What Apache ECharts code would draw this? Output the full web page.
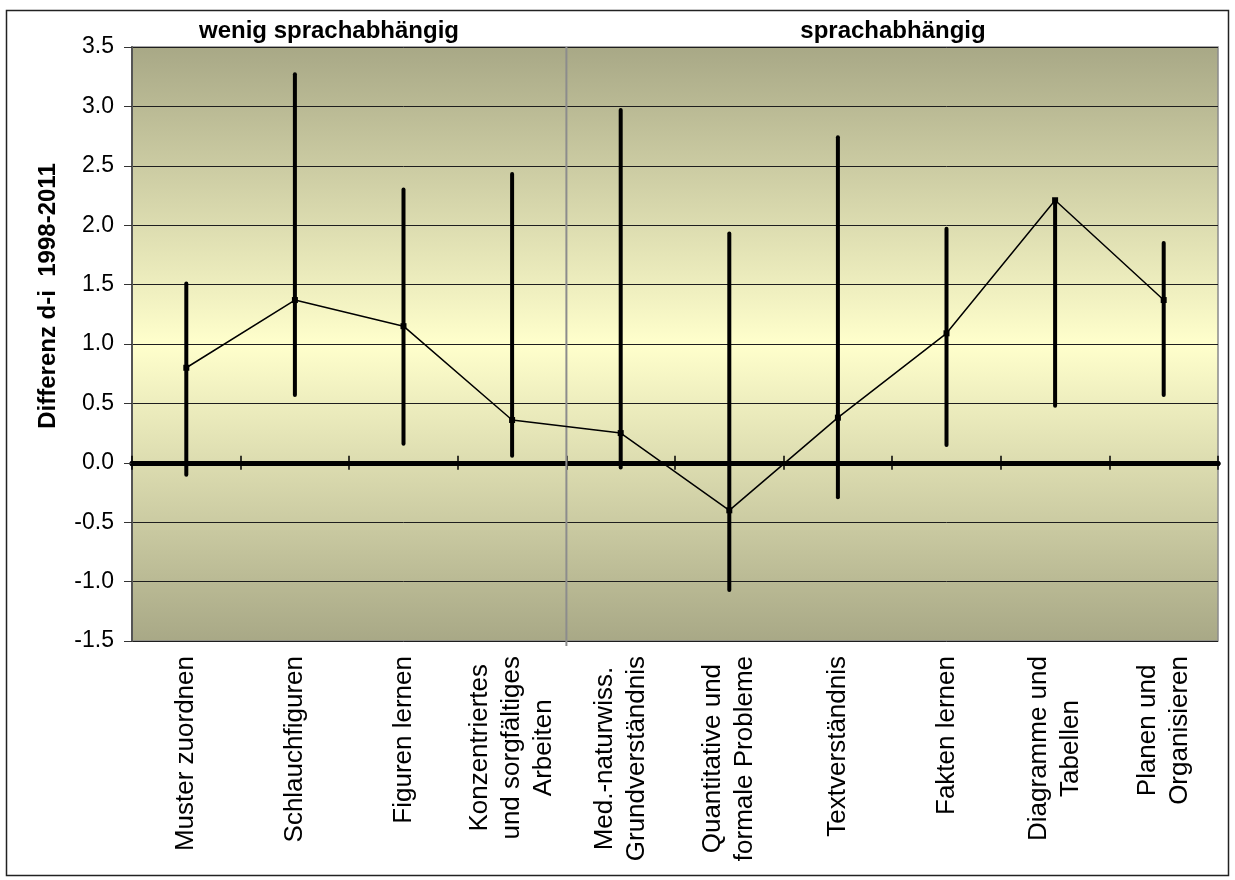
<!DOCTYPE html>
<html>
<head>
<meta charset="utf-8">
<script src="https://cdn.jsdelivr.net/npm/echarts@6/dist/echarts.min.js"></script>
<style>
  html, body { margin: 0; padding: 0; background: #fff; }
  #chart { width: 1235px; height: 880px; }
</style>
</head>
<body>
<div id="chart"></div>
<script>
// Kategorien (Zeilenumbrüche wie im Original)
var categories = [
    'Muster zuordnen',
    'Schlauchfiguren',
    'Figuren lernen',
    'Konzentriertes\nund sorgfältiges\nArbeiten',
    'Med.-naturwiss.\nGrundverständnis',
    'Quantitative und\nformale Probleme',
    'Textverständnis',
    'Fakten lernen',
    'Diagramme und\nTabellen',
    'Planen und\nOrganisieren'
];
var meanValues = [0.80, 1.37, 1.15, 0.36, 0.25, -0.40, 0.38, 1.09, 2.21, 1.37];
var lowValues  = [-0.10, 0.57, 0.16, 0.06, -0.04, -1.07, -0.29, 0.15, 0.48, 0.57];
var highValues = [1.51, 3.27, 2.30, 2.43, 2.97, 1.93, 2.74, 1.97, 2.21, 1.85];
var groupTitles = ['wenig sprachabhängig', 'sprachabhängig'];
var groupStart = [4];   // erste Kategorie der Gruppe "sprachabhängig"
var yTitle = 'Differenz d-i  1998-2011';

var FONT = '"Liberation Sans", Arial, sans-serif';

var errData = [];
for (var i = 0; i < categories.length; i++) {
    errData.push([i, lowValues[i], highValues[i]]);
}
var sepData = groupStart.map(function (g) { return [g, 0]; });

var chart = echarts.init(document.getElementById('chart'));

var option = {
    animation: false,
    backgroundColor: '#fff',
    grid: {
        left: 132, top: 47, right: 17, bottom: 239,
        show: true,
        borderColor: '#8a8a8a', borderWidth: 1.5,
        backgroundColor: {
            type: 'linear', x: 0, y: 0, x2: 0, y2: 1,
            colorStops: [
                {offset: 0, color: '#a8a886'},
                {offset: 0.5, color: '#ffffcc'},
                {offset: 1, color: '#a8a886'}
            ]
        },
        outerBoundsMode: 'none'
    },
    xAxis: [
        {   // Beschriftung unten
            type: 'category', data: categories, position: 'bottom',
            axisLine: {show: false, onZero: false},
            axisTick: {show: false},
            splitLine: {show: false},
            axisLabel: {
                interval: 0, rotate: 90, margin: 15, color: '#000',
                fontSize: 26, fontFamily: FONT, lineHeight: 32,
                formatter: function (v) {
                    return v.split('\n').map(function (s) { return '{c|' + s + '}'; }).join('\n');
                },
                rich: {c: {align: 'center', fontSize: 26, fontFamily: FONT, lineHeight: 32, color: '#000'}}
            }
        },
        {   // Nulllinie, Striche nach unten
            type: 'category', data: categories, position: 'bottom',
            axisLine: {show: true, onZero: true, lineStyle: {color: '#000', width: 5}},
            axisTick: {show: true, interval: 0, length: 7, lineStyle: {color: '#000', width: 1.5}},
            axisLabel: {show: false},
            splitLine: {show: false}
        },
        {   // Nulllinie, Striche nach oben
            type: 'category', data: categories, position: 'top',
            axisLine: {show: true, onZero: true, onZeroAxisIndex: 1, lineStyle: {color: '#000', width: 5}},
            axisTick: {show: true, interval: 0, length: 7, lineStyle: {color: '#000', width: 1.5}},
            axisLabel: {show: false},
            splitLine: {show: false}
        }
    ],
    yAxis: [
        {
            type: 'value', min: -1.5, max: 3.5, interval: 0.5,
            axisLine: {show: true, lineStyle: {color: '#555', width: 2}},
            axisTick: {show: true, length: 8, lineStyle: {color: '#333', width: 1}},
            splitLine: {show: true, lineStyle: {color: '#1e1e1e', width: 1}},
            axisLabel: {
                color: '#000', fontSize: 23, fontFamily: FONT, margin: 18,
                formatter: function (v) { return v.toFixed(1); }
            }
        },
        {
            type: 'value', min: -1.5, max: 3.5, interval: 0.5, position: 'right',
            show: false
        }
    ],
    graphic: [
        {type: 'rect', shape: {x: 6.5, y: 10.5, width: 1222, height: 865},
         style: {fill: 'none', stroke: '#222', lineWidth: 1.5}, silent: true},
        {type: 'text', x: 329, y: 31,
         style: {text: groupTitles[0], fontSize: 24, fontWeight: 'bold', fontFamily: FONT,
                 fill: '#000', align: 'center', verticalAlign: 'middle'}},
        {type: 'text', x: 893, y: 31,
         style: {text: groupTitles[1], fontSize: 24, fontWeight: 'bold', fontFamily: FONT,
                 fill: '#000', align: 'center', verticalAlign: 'middle'}},
        {type: 'text', x: 48, y: 296, rotation: Math.PI / 2,
         style: {text: yTitle, fontSize: 24, fontWeight: 'bold', fontFamily: FONT,
                 fill: '#000', align: 'center', verticalAlign: 'middle'}}
    ],
    series: [
        {   // Trennlinie zwischen den Gruppen
            type: 'custom', xAxisIndex: 0, yAxisIndex: 0, z: 1,
            clip: false,
            data: sepData,
            encode: {x: 0, y: 1},
            renderItem: function (params, api) {
                var cs = params.coordSys;
                var x = api.coord([api.value(0), 0])[0] - api.size([1, 0])[0] / 2;
                return {
                    type: 'line',
                    shape: {x1: x, y1: cs.y, x2: x, y2: cs.y + cs.height + 5},
                    style: {stroke: '#8c8c8c', lineWidth: 2}
                };
            }
        },
        {
            type: 'custom', xAxisIndex: 0, yAxisIndex: 0, z: 3,
            data: errData,
            encode: {x: 0, y: [1, 2]},
            renderItem: function (params, api) {
                var lo = api.coord([api.value(0), api.value(1)]);
                var hi = api.coord([api.value(0), api.value(2)]);
                return {
                    type: 'line',
                    shape: {x1: lo[0], y1: lo[1], x2: hi[0], y2: hi[1]},
                    style: {stroke: '#000', lineWidth: 4, lineCap: 'round'}
                };
            }
        },
        {
            type: 'line', xAxisIndex: 0, yAxisIndex: 0, z: 4,
            data: meanValues,
            symbol: 'rect', symbolSize: 6,
            itemStyle: {color: '#000'},
            lineStyle: {color: '#000', width: 1.5}
        }
    ]
};

chart.setOption(option);
</script>
</body>
</html>
